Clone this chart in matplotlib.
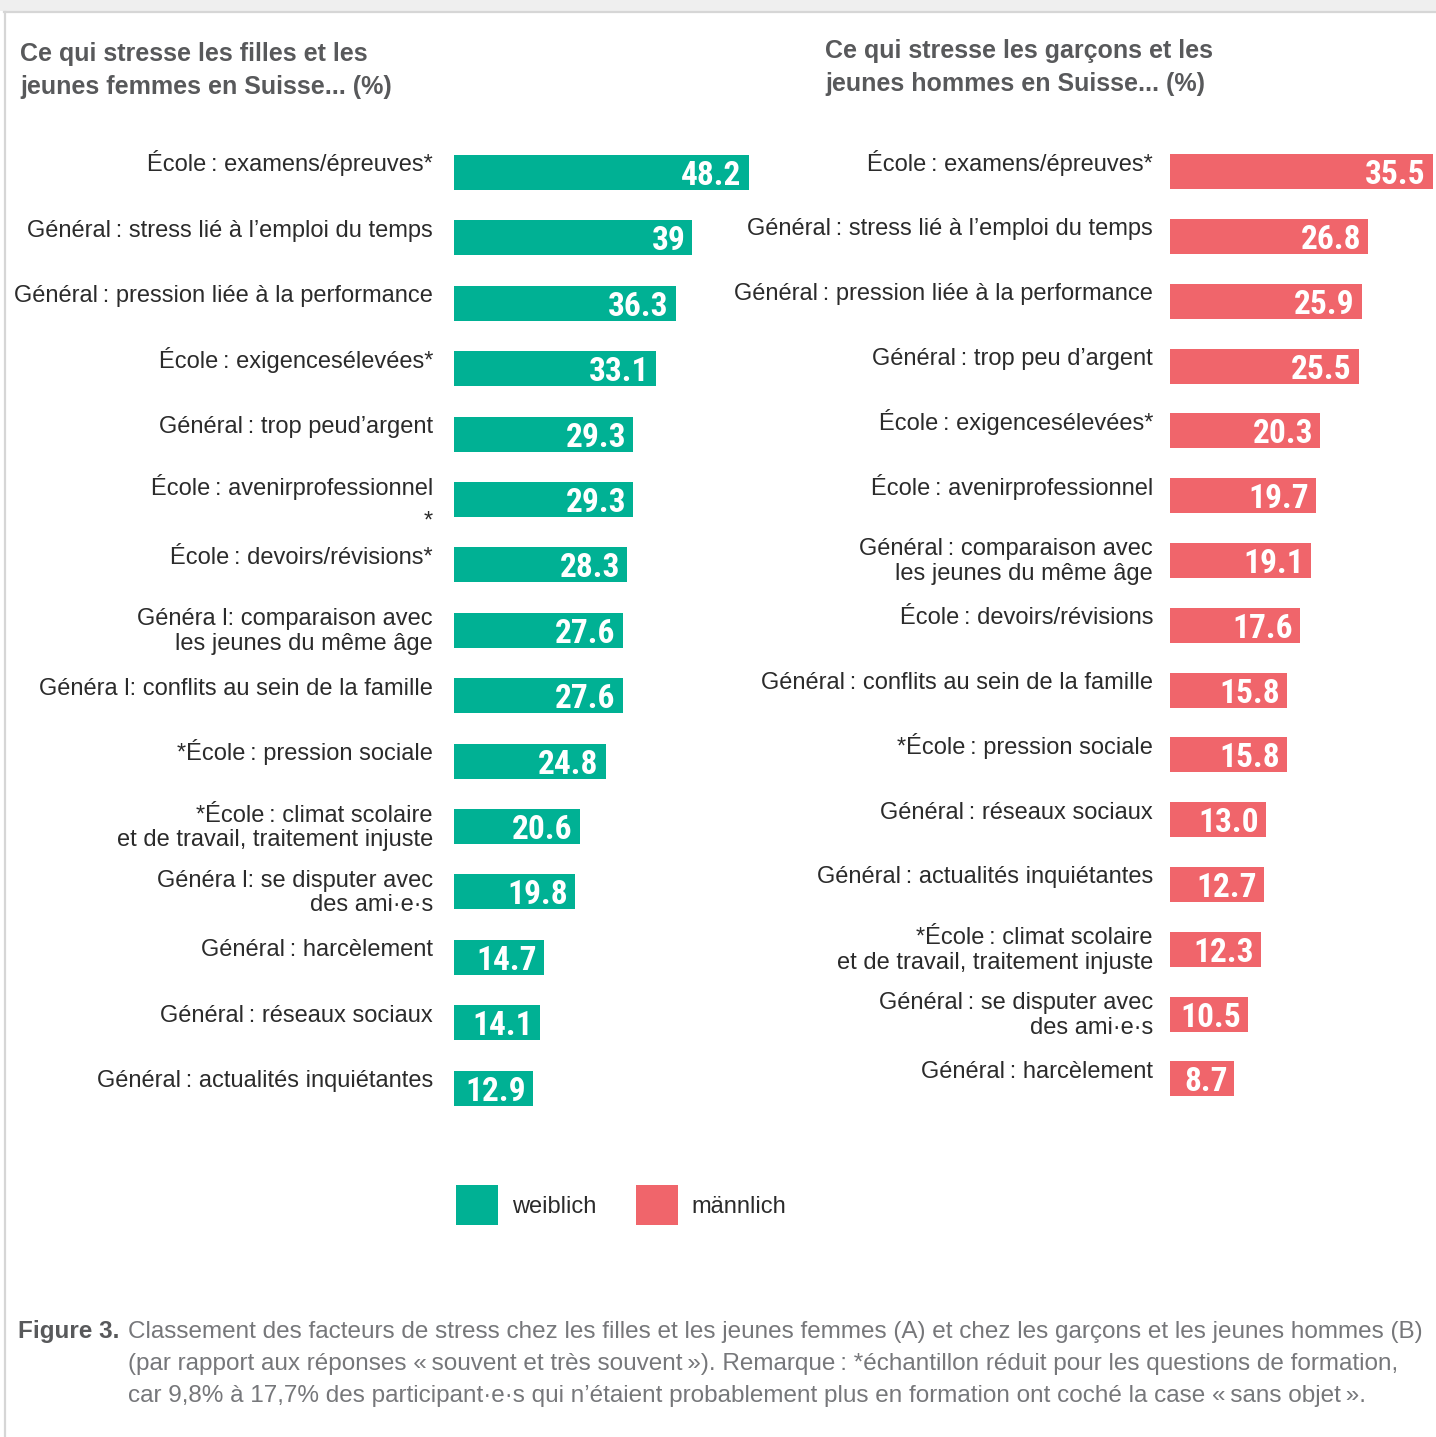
import matplotlib
matplotlib.use("Agg")
import matplotlib.pyplot as plt
from matplotlib.patches import Patch, Rectangle
from matplotlib.lines import Line2D

# facteurs de stress, filles / jeunes femmes (%)
cat_f = [
    "École\u2009: examens/épreuves*",
    "Général\u2009: stress lié à l’emploi du temps",
    "Général\u2009: pression liée à la performance",
    "École\u2009: exigencesélevées*",
    "Général\u2009: trop peud’argent",
    "École\u2009: avenirprofessionnel\n*",
    "École\u2009: devoirs/révisions*",
    "Généra l: comparaison avec\nles jeunes du même âge",
    "Généra l: conflits au sein de la famille",
    "*École\u2009: pression sociale",
    "*École\u2009: climat scolaire\net de travail, traitement injuste",
    "Généra l: se disputer avec\ndes ami·e·s",
    "Général\u2009: harcèlement",
    "Général\u2009: réseaux sociaux",
    "Général\u2009: actualités inquiétantes",
]
val_f = [48.2, 39, 36.3, 33.1, 29.3, 29.3, 28.3, 27.6, 27.6, 24.8, 20.6, 19.8, 14.7, 14.1, 12.9]

# facteurs de stress, garçons / jeunes hommes (%)
cat_m = [
    "École\u2009: examens/épreuves*",
    "Général\u2009: stress lié à l’emploi du temps",
    "Général\u2009: pression liée à la performance",
    "Général\u2009: trop peu d’argent",
    "École\u2009: exigencesélevées*",
    "École\u2009: avenirprofessionnel",
    "Général\u2009: comparaison avec\nles jeunes du même âge",
    "École\u2009: devoirs/révisions",
    "Général\u2009: conflits au sein de la famille",
    "*École\u2009: pression sociale",
    "Général\u2009: réseaux sociaux",
    "Général\u2009: actualités inquiétantes",
    "*École\u2009: climat scolaire\net de travail, traitement injuste",
    "Général\u2009: se disputer avec\ndes ami·e·s",
    "Général\u2009: harcèlement",
]
val_m = [35.5, 26.8, 25.9, 25.5, 20.3, 19.7, 19.1, 17.6, 15.8, 15.8, 13.0, 12.7, 12.3, 10.5, 8.7]

title_f = "Ce qui stresse les filles et les\njeunes femmes en Suisse... (%)"
title_m = "Ce qui stresse les garçons et les\njeunes hommes en Suisse... (%)"
legend_labels = ["weiblich", "männlich"]
caption_head = "Figure 3."
caption_lines = [
    "Classement des facteurs de stress chez les filles et les jeunes femmes (A) et chez les garçons et les jeunes hommes (B)",
    "(par rapport aux réponses «\u2009souvent et très souvent\u2009»). Remarque\u2009: *échantillon réduit pour les questions de formation,",
    "car 9,8% à 17,7% des participant·e·s qui n’étaient probablement plus en formation ont coché la case «\u2009sans objet\u2009».",
]

GREEN = "#00b194"
RED = "#f0656b"
TXT = "#2b2b2b"
GREY = "#58595b"
W, H = 1436, 1437
PT = 0.72  # points per pixel at 100 dpi

plt.rcParams["font.family"] = ["Liberation Sans", "DejaVu Sans"]
NUM_FONT = ["Liberation Sans Narrow", "Roboto Condensed", "DejaVu Sans"]


def fx(x):
    return x / W


def fy(y):
    return 1 - y / H


fig = plt.figure(figsize=(W / 100, H / 100), dpi=100)
fig.patch.set_facecolor("white")

# cadre gris en haut et à gauche
fig.patches.append(Rectangle((0, fy(11)), 1, 11 / H, transform=fig.transFigure,
                             facecolor="#efefef", edgecolor="none", zorder=0))
fig.lines.append(Line2D([fx(4), 1], [fy(12), fy(12)], transform=fig.transFigure,
                        color="#d6d6d6", lw=1.6))
fig.lines.append(Line2D([fx(4.5), fx(4.5)], [fy(12), 0], transform=fig.transFigure,
                        color="#d6d6d6", lw=1.6))


def panel(left_px, scale, xmax_px, top_c, step, cats, vals, color, label_gap):
    top = top_c - step / 2
    bottom = top_c + 14 * step + step / 2
    ax = fig.add_axes([fx(left_px), fy(bottom), xmax_px / W, (bottom - top) / H])
    ax.barh(range(len(vals)), vals, height=35 / step, color=color, zorder=2)
    ax.set_xlim(0, xmax_px / scale)
    ax.set_ylim(len(vals) - 0.5, -0.5)
    ax.axis("off")
    for i, (c, v) in enumerate(zip(cats, vals)):
        lines = c.split("\n")
        first = -1 if len(lines) == 1 else -5
        for k, ln in enumerate(lines):
            gap = 24.5 if ln != "*" else 33
            ax.annotate(ln, xy=(0, i), xycoords=("axes fraction", "data"),
                        xytext=(-label_gap * PT, -(first + gap * k) * PT),
                        textcoords="offset points", ha="right", va="baseline",
                        fontsize=17, color=TXT)
        ax.annotate(f"{v}", xy=(v, i), xytext=(-7 * PT, -12.5 * PT),
                    textcoords="offset points", ha="right", va="baseline",
                    fontsize=24, fontweight="bold", family=NUM_FONT,
                    color="white", zorder=3)
    return ax


panel(454, 6.11, 306, 172.5, 65.4, cat_f, val_f, GREEN, 21)
panel(1170, 7.4, 266, 171.7, 64.8, cat_m, val_m, RED, 17)

# titres
for x, y, t in [(20, 61, title_f), (825, 58, title_m)]:
    for k, ln in enumerate(t.split("\n")):
        fig.text(fx(x), fy(y + 33 * k), ln, ha="left", va="baseline",
                 fontsize=18, fontweight="bold", color=GREY)

# légende
handles = [Patch(facecolor=GREEN), Patch(facecolor=RED)]
fig.legend(handles, legend_labels, loc="upper left",
           bbox_to_anchor=(fx(456), fy(1185)), ncol=2, frameon=False,
           fontsize=17, handlelength=1.78, handleheight=2.25,
           handletextpad=0.6, columnspacing=1.65, borderpad=0,
           borderaxespad=0, labelcolor=TXT)

# légende de la figure
fig.text(fx(18), fy(1338), caption_head, ha="left", va="baseline",
         fontsize=17.5, fontweight="bold", color=GREY)
for k, ln in enumerate(caption_lines):
    fig.text(fx(128), fy(1338 + 32 * k), ln, ha="left", va="baseline",
             fontsize=17.5, color="#76777a")

fig.savefig("out.png", dpi=100, facecolor="white")
